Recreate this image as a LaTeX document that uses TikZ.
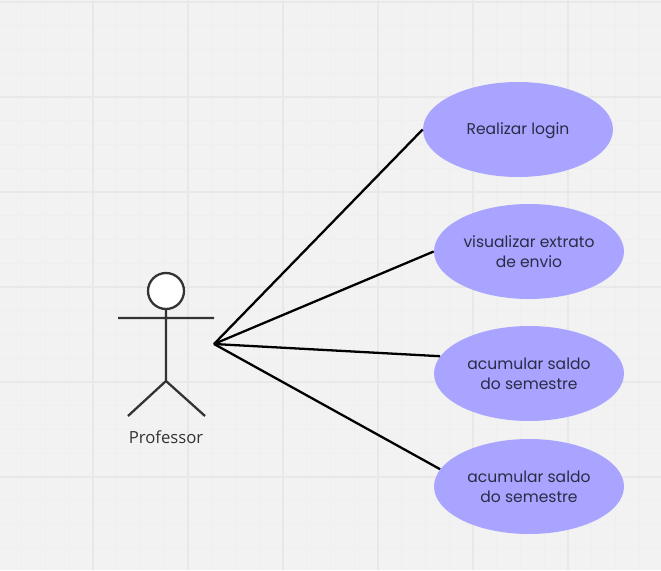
\documentclass[tikz,border=0pt]{standalone}
\usepackage{fontspec}
\setmainfont{Poppins}
\newfontfamily\actorfont{Open Sans}
\definecolor{fundo}{HTML}{F2F2F2}
\definecolor{gridmaior}{HTML}{E8E8E8}
\definecolor{gridmenor}{HTML}{EFEFEF}
\definecolor{lilas}{HTML}{A9A4FF}
\definecolor{tinta}{HTML}{2B2B45}
\definecolor{traco}{HTML}{333333}
\tikzset{
	usecase/.style = {ellipse, fill = lilas, minimum width = 3.8cm, minimum height = 1.9cm, inner sep = 0pt, align = center, text = tinta, font = \fontsize{8.85}{11.2}\selectfont, execute at begin node = \rule{0pt}{8.6pt}},
	actorline/.style = {draw = traco, line width = 1.3pt},
	assoc/.style = {draw = black, line width = 1.3pt}
}
\usetikzlibrary{shapes.geometric}
\begin{document}
\begin{tikzpicture}[x = 0.02cm, y = -0.02cm]
	\useasboundingbox (0,0) rectangle (661,570);
	\fill[fundo] (0,0) rectangle (661,570);
	\foreach \x in {0,...,27}
		\draw[gridmenor, line width = 0.4pt] (\x*23.75 - 2,0)--(\x*23.75 - 2,570);
	\foreach \y in {0,...,24}
		\draw[gridmenor, line width = 0.4pt] (0,\y*23.75 + 2)--(661,\y*23.75 + 2);
	\foreach \x in {93,188,283,378,473,568}
		\draw[gridmaior, line width = 0.6pt] (\x,0)--(\x,570);
	\foreach \y in {2,97,192,287,382,477}
		\draw[gridmaior, line width = 0.6pt] (0,\y)--(661,\y);
	% ator
	\node (head) at (166,291) [draw = traco, circle, fill = white, line width = 1.3pt, minimum size = 0.72cm, inner sep = 0pt] {};
	\coordinate (neck) at (166,318);
	\coordinate (hip) at (166,381);
	\coordinate (armL) at (118,318);
	\coordinate (armR) at (214,318);
	\coordinate (legL) at (128,416);
	\coordinate (legR) at (205,416);
	\draw[actorline] (head)--(hip) (armL)--(armR) (legL)--(hip)--(legR);
	\node (professor) at (166,437) [text = traco, font = \actorfont\fontsize{9.5}{11}\selectfont] {Professor};
	% casos de uso
	\node (login) at (518,129.5) [usecase] {Realizar login};
	\node (extrato) at (529,251.5) [usecase] {visualizar extrato\\de envio};
	\node (saldoA) at (529,373.5) [usecase] {acumular saldo\\do semestre};
	\node (saldoB) at (529,486.5) [usecase] {acumular saldo\\do semestre};
	\coordinate (hand) at (214,344);
	\draw[assoc] (hand)--(login.west);
	\draw[assoc] (hand)--(extrato.west);
	\draw[assoc] (hand)--(saldoA.169);
	\draw[assoc] (hand)--(saldoB.169);
\end{tikzpicture}
\end{document}
